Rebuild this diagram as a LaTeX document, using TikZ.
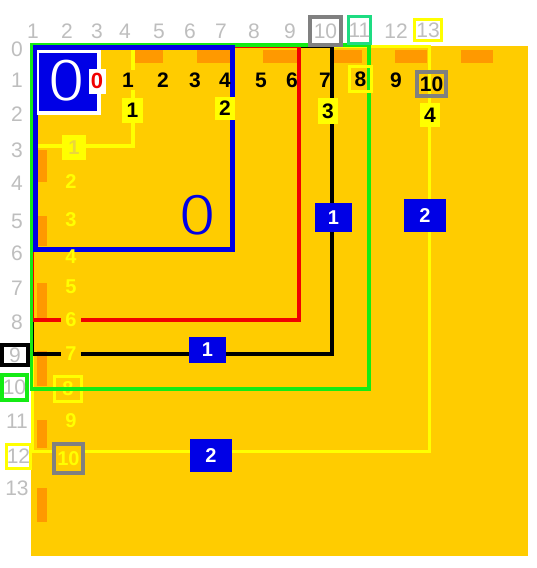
\documentclass[tikz,border=0pt]{standalone}
\usepackage{fontspec}
\setmainfont{Liberation Sans}
\newfontfamily\thinzero{Fira Sans Light}
\definecolor{bgc}{RGB}{255,204,0}
\definecolor{orgc}{RGB}{255,153,0}
\definecolor{ylwc}{RGB}{255,255,0}
\definecolor{grnc}{RGB}{20,235,20}
\definecolor{bluc}{RGB}{0,0,230}
\definecolor{gtxt}{RGB}{190,190,190}
\definecolor{gboxc}{RGB}{128,128,128}
\definecolor{tealc}{RGB}{30,220,130}
\definecolor{redc}{RGB}{240,0,0}
\definecolor{palec}{RGB}{235,215,60}
\begin{document}
\begin{tikzpicture}[x=1pt,y=-1pt,
  gl/.style={font=\fontsize{21}{21}\selectfont, text=gtxt, inner sep=0pt},
  bn/.style={font=\bfseries\fontsize{21}{21}\selectfont, inner sep=0pt},
  yn/.style={font=\bfseries\fontsize{20}{20}\selectfont, text=ylwc, inner sep=0pt},
  ybx/.style={bn, fill=ylwc},
  blab/.style={fill=bluc, text=white, font=\bfseries\fontsize{20}{20}\selectfont, inner sep=0pt},
  bigz/.style={font=\thinzero\fontsize{58}{58}\selectfont, inner sep=0pt}
]
\useasboundingbox (0,0) rectangle (537,568);
\fill[white] (0,0) rectangle (537,568);
\fill[bgc] (31,46) rectangle (528,556);
% orange ticks
\foreach \a/\b in {135/163,197/230,263/297,334/362,395/427,461/493}
  \fill[orgc] (\a,50) rectangle (\b,63);
\foreach \a/\b in {150/182,216/246,283/318,351/386,420/448,488/522}
  \fill[orgc] (37,\a) rectangle (47,\b);
% nested frames
\draw[ylwc, line width=3] (32,46) rectangle (429,451);
\draw[black, line width=4] (32,46) rectangle (332,354);
\draw[redc, line width=4] (32,46) rectangle (299,320);
\draw[ylwc, line width=3.5] (32,46) rectangle (133,146);
% lower-left yellow 8 box (under green line)
\node[yn, draw=ylwc, line width=3, minimum width=27, minimum height=25] (y8) at (68,389) {8};
\draw[grnc, line width=3.5] (31.5,45) rectangle (369,389);
\draw[bluc, line width=5] (35.5,47.5) rectangle (232.5,249);
% top-left emblem
\fill[white] (37,50) rectangle (101,115);
\fill[bluc] (39,53) rectangle (97,111);
\node[bigz, text=white] (bigzero) at (67,81) {\scalebox{1.2}[1.03]{0}};
\node[bigz, text=bluc] (bluezero) at (198,215) {\scalebox{1.2}[1]{0}};
\node[fill=white, text=redc, font=\bfseries\fontsize{22}{22}\selectfont, inner sep=0pt, minimum width=17, minimum height=25] (redzero) at (97,81) {0};
% top gray labels
\foreach \x/\t in {33/1,67/2,97/3,125/4,159/5,190/6,221/7,254/8,290/9,396/12}
  \node[gl] (top\t) at (\x,31) {\t};
\node[gl, draw=gboxc, line width=4, fill=white, minimum width=31, minimum height=28] (top10) at (325.5,31) {10};
\node[gl, draw=tealc, line width=3, fill=white, minimum width=22, minimum height=27] (top11) at (359.5,30) {11};
\node[gl, draw=ylwc, line width=3, fill=white, minimum width=27, minimum height=21] (top13) at (428,30) {13};
% left gray labels
\foreach \y/\t in {49/0,80/1,114/2,150/3,183/4,221/5,253/6,288/7,322/8,421/11,488/13}
  \node[gl] (left\t) at (17,\y) {\t};
\node[gl, draw=black, line width=4, fill=white, minimum width=26, minimum height=20] (left9) at (15,355) {9};
\node[gl, draw=grnc, line width=4, fill=white, minimum width=25, minimum height=25] (left10) at (14.5,387.5) {10};
\node[gl, draw=ylwc, line width=3, fill=white, minimum width=24, minimum height=24] (left12) at (18.5,456.5) {12};
% black row numbers
\node[bn, fill=bgc, inner sep=3pt] (r1) at (128,80) {1};
\foreach \x/\t in {163/2,195/3,225/4,261/5,292/6,325/7,396/9}
  \node[bn] (r\t) at (\x,80) {\t};
\node[bn, draw=ylwc, line width=3, minimum width=22, minimum height=25] (r8) at (360.5,79) {8};
\node[bn, draw=gboxc, line width=4, minimum width=29, minimum height=24] (r10) at (431.5,84) {10};
% yellow boxes
\node[ybx, minimum width=21, minimum height=25] (yb1) at (132.5,110.5) {1};
\node[ybx, minimum width=20, minimum height=23] (yb2) at (225,108.5) {2};
\node[ybx, minimum width=20, minimum height=26] (yb3) at (328,111) {3};
\node[ybx, minimum width=20, minimum height=24] (yb4) at (430,115) {4};
% yellow column
\node[yn, fill=ylwc, text=palec, minimum width=24, minimum height=25] (c1) at (74,147.5) {1};
\foreach \y/\t in {182/2,220/3,257/4,287/5,421/9}
  \node[yn] (c\t) at (71,\y) {\t};
\node[yn, fill=bgc, inner xsep=4pt] (c6) at (71,320) {6};
\node[yn, fill=bgc, inner xsep=4pt] (c7) at (71,354) {7};
\node[yn, draw=gboxc, fill=bgc, line width=4, minimum width=29, minimum height=29] (c10) at (68.5,458.5) {10};
% blue labels
\node[blab, minimum width=37, minimum height=29] (b1a) at (333.5,217.5) {1};
\node[blab, minimum width=42, minimum height=33] (b2a) at (425,215.5) {2};
\node[blab, minimum width=37, minimum height=26] (b1b) at (207.5,350) {1};
\node[blab, minimum width=42, minimum height=33] (b2b) at (211,455.5) {2};
\end{tikzpicture}
\end{document}
